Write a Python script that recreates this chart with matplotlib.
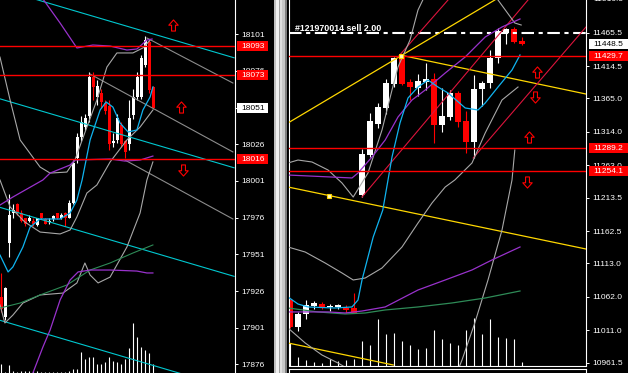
import numpy as np
import matplotlib
matplotlib.use('Agg')
import matplotlib.pyplot as plt
from matplotlib.patches import Rectangle
from matplotlib.path import Path
from matplotlib.lines import Line2D
from matplotlib.transforms import IdentityTransform

plt.rcParams['font.family'] = ['Liberation Sans', 'DejaVu Sans']

# ---------------- left chart ----------------
left_open = [17922, 17908, 17959, 17979, 17985, 17979, 17976, 17974, 17974, 17971, 17979, 17975, 17973,
             17975, 17979, 17976, 17979, 17976, 17986, 18017, 18031, 18038, 18045, 18072, 18058, 18061,
             18054, 18052, 18027, 18029, 18039, 18028, 18026, 18046, 18058, 18058, 18080, 18096, 18065]
left_high = [17938, 17929, 17992, 17985, 17986, 17981, 17976, 17978, 17976, 17976, 17979, 17976, 17976,
             17978, 17979, 17979, 17980, 17988, 18015, 18034, 18045, 18047, 18075, 18075, 18070, 18064,
             18056, 18056, 18034, 18047, 18041, 18029, 18056, 18064, 18075, 18087, 18100, 18098, 18066]
left_low = [17912, 17906, 17949, 17976, 17978, 17973, 17970, 17973, 17970, 17970, 17975, 17972, 17972,
            17974, 17975, 17975, 17970, 17976, 17985, 18013, 18028, 18036, 18041, 18056, 18053, 18051,
            18047, 18022, 18024, 18027, 18024, 18017, 18022, 18043, 18056, 18057, 18079, 18061, 18050]
left_close = [17914, 17928, 17978, 17981, 17979, 17974, 17972, 17976, 17972, 17976, 17976, 17972, 17974,
              17977, 17976, 17978, 17976, 17986, 18013, 18031, 18041, 18044, 18072, 18065, 18066, 18055,
              18049, 18026, 18028, 18044, 18026, 18021, 18044, 18058, 18072, 18085, 18097, 18063, 18051]
left_vol = [90, 10, 80, 20, 10, 20, 20, 20, 20, 20, 10, 10, 10, 10, 10, 10, 10, 20, 40, 40,
            210, 140, 160, 160, 90, 90, 110, 160, 120, 110, 90, 140, 250, 500, 360, 260, 230, 200, 90]
left_ticks = [18101, 18076, 18051, 18026, 18001, 17976, 17951, 17926, 17901, 17876]
left_levels = [18093, 18073, 18016]

left_chan_x = [-0.3, 58.2]
left_chan = [[18132, 18085], [18057, 18010], [17983, 17936], [17906, 17859]]

left_trend_x = [[36.4, 57.9], [22.2, 57.9], [30.9, 57.9]]
left_trend = [[18098.5, 18067.8], [18073.9, 18020.8], [18015.3, 17975.1]]

left_bb_up_x = [-0.33, 2.2, 4.7, 9.7, 12.2, 16.4, 18.4, 21.4, 23.9, 26.4, 28.9, 32.9, 35.4, 37.2]
left_bb_up = [18085.5, 18056.2, 18029.0, 18010.5, 18006.4, 18007.1, 18015.3, 18037.8, 18056.2, 18078.7,
              18088.3, 18088.3, 18091.7, 18097.1]
left_bb_lo_x = [-0.33, 2.2, 5.9, 9.7, 14.7, 17.2, 18.9, 21.4, 23.9, 27.2, 31.4, 34.7, 37.9]
left_bb_lo = [18001.7, 17983.3, 17973.0, 17966.2, 17964.9, 17967.6, 17976.5, 17992.8, 17998.3, 18014.0,
              18029.0, 18037.8, 18049.4]
left_wave_x = [-0.33, 0.9, 2.9, 5.4, 9.7, 15.4, 18.9, 20.9, 22.2, 24.2, 27.2, 31.4, 34.7, 36.4, 37.9]
left_wave = [17916.5, 17904.2, 17909.6, 17917.8, 17923.3, 17924.6, 17931.5, 17945.1, 17936.9, 17931.5,
             17935.5, 17956.0, 17979.2, 18001.7, 18014.0]
left_ma_x = [-0.33, 1.7, 2.9, 5.4, 7.2, 9.7, 14.7, 17.2, 18.9, 20.2, 22.2, 24.7, 26.2, 27.9, 29.7, 31.7,
             33.9, 35.4, 37.2, 37.9]
left_ma = [17950.5, 17939.0, 17942.4, 17956.0, 17969.6, 17975.1, 17975.1, 17979.2, 17988.0, 18001.7,
           18029.0, 18049.4, 18054.9, 18051.4, 18040.5, 18034.4, 18035.8, 18049.4, 18058.3, 18065.1]
left_env_up_x = [9.7, 14.7, 18.9, 22.9, 27.2, 31.4, 33.9, 36.4, 37.7]
left_env_up = [18127.8, 18108.7, 18091.7, 18093.7, 18093.0, 18090.3, 18091.0, 18097.1, 18097.8]
left_env_mid_x = [-0.33, 2.9, 10.4, 12.2, 17.2, 18.4, 27.2, 30.9, 34.7, 37.9]
left_env_mid = [17984.6, 17990.1, 18001.7, 18006.4, 18011.9, 18015.3, 18016.0, 18014.6, 18015.3, 18018.0]
left_env_lo_x = [6.7, 7.9, 10.4, 12.2, 14.7, 17.2, 19.2, 22.2, 27.2, 33.9, 36.4, 37.9]
left_env_lo = [17858.5, 17870.1, 17887.8, 17899.4, 17919.9, 17933.5, 17939.0, 17940.3, 17940.3,
               17939.6, 17938.3, 17938.3]
left_green_x = [-0.33, 4.7, 9.7, 16.4, 22.2, 27.2, 32.9, 37.9]
left_green = [17914.4, 17917.8, 17923.3, 17930.1, 17940.3, 17945.1, 17951.9, 17957.4]
left_up_x, left_up = [42.9, 44.9], [18107.3, 18051.4]
left_dn_x, left_dn = [45.4], [18008.5]

# ---------------- right chart ----------------
right_open = [11057, 11016, 11036, 11048, 11051, 11047, 11047, 11045, 11045, 11218, 11279, 11326, 11351,
              11387, 11428, 11390, 11381, 11390, 11395, 11325, 11337, 11373, 11330, 11299, 11380, 11389,
              11427, 11465, 11471, 11453]
right_high = [11058, 11039, 11057, 11056, 11054, 11051, 11051, 11050, 11068, 11288, 11343, 11358, 11395,
              11428, 11431, 11395, 11402, 11419, 11404, 11381, 11378, 11377, 11346, 11401, 11392, 11439,
              11473, 11473, 11474, 11459]
right_low = [11015, 11010, 11028, 11044, 11044, 11041, 11044, 11037, 11037, 11215, 11276, 11320, 11341,
             11383, 11386, 11363, 11369, 11378, 11297, 11314, 11332, 11322, 11282, 11274, 11354, 11381,
             11419, 11448, 11450, 11447]
right_close = [11016, 11036, 11050, 11053, 11045, 11048, 11050, 11042, 11037, 11280, 11331, 11352, 11389,
               11427, 11387, 11383, 11392, 11395, 11325, 11338, 11373, 11329, 11299, 11380, 11389, 11427,
               11468, 11471, 11451, 11448.5]
right_vol = [230, 90, 60, 40, 30, 70, 50, 60, 70, 250, 210, 470, 320, 330, 250, 210, 170, 180, 360, 270,
             230, 210, 360, 480, 320, 470, 290, 280, 270, 40]
right_ticks = [11465.5, 11414.5, 11365.0, 11314.0, 11263.0, 11213.5, 11162.5, 11113.0, 11062.0,
               11011.0, 10961.5]
right_levels = [11429.7, 11289.2, 11254.1]
order_price = 11465.5
order_label = '#121970014 sell 2.00'

right_yellow_x = [[-0.25, 25.6], [13.9, 37.0], [-0.25, 37.0], [-0.25, 12.9]]
right_yellow = [[11327.6, 11515.4], [11431.0, 11371.8], [11229.8, 11135.1], [10991.6, 10958.0]]
right_anchor_x, right_anchor = [4.9, 13.9], [11216.1, 11430.5]
right_crimson_x = [[9.0, 29.75], [13.5, 19.75], [22.9, 37.0]]
right_crimson = [[11214.5, 11515.4], [11428.4, 11515.4], [11274.1, 11474.2]]

right_bb_a_x = [-0.25, 1.0, 2.75, 4.75, 6.5, 7.9, 9.75, 11.5, 12.75, 13.5, 15.0, 16.0, 16.9]
right_bb_a = [11266.5, 11271.0, 11268.0, 11255.8, 11235.9, 11214.5, 11251.2, 11316.9, 11377.9, 11413.1,
              11454.3, 11500.1, 11523.0]
right_bb_top_x = [26.0, 28.1, 28.9]
right_bb_top = [11515.4, 11480.3, 11477.2]
right_bb_b_x = [-0.25, 1.9, 4.4, 6.5, 7.9, 9.4, 11.5, 14.0, 16.0, 17.75, 19.4, 20.6, 22.75, 24.4, 26.5, 28.5]
right_bb_b = [11138.2, 11130.5, 11113.7, 11098.5, 11087.8, 11090.8, 11106.1, 11138.2, 11174.8, 11205.4,
              11229.8, 11240.5, 11266.5, 11312.3, 11362.7, 11382.5]
right_bb_c_x = [21.0, 21.5, 23.1, 24.75, 26.5, 27.75, 28.1]
right_bb_c = [10950.3, 10965.6, 11022.1, 11087.8, 11164.1, 11240.5, 11286.3]
right_bb_d_x = [-0.25, 1.9, 4.0, 6.0, 7.5]
right_bb_d = [11014.5, 10991.6, 10973.2, 10961.0, 10950.3]
right_ma_x = [-0.25, 1.0, 2.25, 5.6, 7.75, 8.5, 9.0, 10.4, 11.6, 12.75, 13.75, 14.75, 16.0, 17.25, 18.5,
              19.75, 21.9, 23.5, 24.4, 26.0, 27.75, 28.75]
right_ma = [11061.8, 11051.1, 11046.6, 11045.0, 11046.6, 11057.2, 11087.8, 11153.4, 11194.7, 11275.6,
            11327.6, 11365.7, 11382.5, 11393.2, 11382.5, 11373.4, 11350.5, 11347.4, 11358.1, 11382.5,
            11408.5, 11431.4]
right_pur_lo_x = [-0.25, 4.75, 6.9, 9.0, 11.9, 16.0, 19.4, 22.75, 25.25, 28.75]
right_pur_lo = [11039.0, 11039.0, 11037.4, 11040.4, 11046.6, 11072.5, 11087.8, 11103.1, 11118.4, 11138.2]
right_pur_up_x = [-0.25, 7.75, 8.5, 10.25, 11.9, 13.5, 15.25, 16.9, 19.4, 21.9, 24.4, 26.5, 28.75]
right_pur_up = [11248.1, 11243.6, 11251.2, 11275.6, 11301.6, 11336.7, 11362.7, 11377.9, 11403.9,
                11428.4, 11458.9, 11474.2, 11486.4]
right_green_x = [-0.25, 3.5, 6.9, 9.4, 11.9, 16.0, 20.25, 24.4, 28.75]
right_green = [11045.0, 11039.0, 11035.9, 11037.4, 11042.0, 11046.6, 11052.7, 11060.3, 11071.0]
right_up_x, right_up = [30.9, 29.9], [11405.4, 11306.2]
right_dn_x, right_dn = [30.6, 29.6], [11367.3, 11237.4]

CYAN_CH = '#00c8d0'
CYAN = '#10b4f0'
PURPLE = '#9932cc'
GREEN = '#2e8b57'
GRAY = '#a8a8a8'
DGRAY = '#8c8c8c'
YELLOW = '#ffd700'
CRIMSON = '#dc143c'

W, H = 628, 373
fig = plt.figure(figsize=(W / 100, H / 100), dpi=100, facecolor='black')
PIX = IdentityTransform()


def box_px(x0, y0, x1, y1):
    return [x0 / W, 1 - y1 / H, (x1 - x0) / W, (y1 - y0) / H]


def make_axes(box, xlim, ylim, vmax):
    axv = fig.add_axes(box)
    axv.set_xlim(xlim)
    axv.set_ylim(0, vmax)
    axv.axis('off')
    ax = fig.add_axes(box)
    ax.set_facecolor('none')
    ax.set_xlim(xlim)
    ax.set_ylim(ylim)
    ax.set_xticks([])
    for s in ax.spines.values():
        s.set_visible(False)
    ax.yaxis.tick_right()
    ax.tick_params(axis='y', colors='white', length=2, width=0.7, pad=2.5, labelsize=6)
    return ax, axv


def candles(ax, o, h, l, c, width):
    o, h, l, c = map(np.asarray, (o, h, l, c))
    x = np.arange(len(o))
    cols = np.where(c >= o, 'white', 'red')
    y0, y1 = ax.get_ylim()
    one_px = (y1 - y0) / ax.bbox.height
    ax.vlines(x, l, h, colors=cols, lw=0.8, zorder=2)
    ax.bar(x, np.maximum(np.abs(c - o), one_px), bottom=np.minimum(o, c), width=width,
           color=cols, lw=0, zorder=2)


def price_box(ax, price, label, fc, tc, x0, x1):
    y = ax.transData.transform((0, price))[1]
    fig.add_artist(Rectangle((x0, y - 5), x1 - x0, 10, transform=PIX, fc=fc, ec='none', zorder=20))
    fig.text(x0 + 4, y - 0.5, label, transform=PIX, color=tc, fontsize=6, va='center', zorder=21)


up_arrow = Path([(0, 1), (0.85, 0.05), (0.35, 0.05), (0.35, -1), (-0.35, -1), (-0.35, 0.05),
                 (-0.85, 0.05), (0, 1)], closed=True)
dn_arrow = Path([(0, -1), (0.85, -0.05), (0.35, -0.05), (0.35, 1), (-0.35, 1), (-0.35, -0.05),
                 (-0.85, -0.05), (0, -1)], closed=True)


def arrows(ax, x, y, mk):
    ax.plot(x, y, ls='none', marker=mk, ms=8, mfc='none', mec='red', mew=0.8, zorder=6)


# ---- left panel ----
axL, axLv = make_axes(box_px(0, 0, 234.7, 373), (-0.325, 58.35), (17870.1, 18124.4), 3730)
axL.spines['right'].set_visible(True)
axL.spines['right'].set_color('white')
axL.spines['right'].set_linewidth(0.8)
axL.set_yticks(left_ticks)
axL.set_yticklabels([str(t) for t in left_ticks])

axLv.vlines(np.arange(len(left_vol)), 0, left_vol, colors='white', lw=0.8)
candles(axL, left_open, left_high, left_low, left_close, 0.62)

for ch in left_chan:
    axL.plot(left_chan_x, ch, color=CYAN_CH, lw=0.8, zorder=3)
for tx, ty in zip(left_trend_x, left_trend):
    axL.plot(tx, ty, color=DGRAY, lw=0.8, zorder=3)
axL.plot(left_bb_up_x, left_bb_up, color=GRAY, lw=0.8, zorder=3)
axL.plot(left_bb_lo_x, left_bb_lo, color=GRAY, lw=0.8, zorder=3)
axL.plot(left_wave_x, left_wave, color=GRAY, lw=0.8, zorder=3)
axL.plot(left_green_x, left_green, color=GREEN, lw=0.8, zorder=3)
axL.plot(left_env_up_x, left_env_up, color=PURPLE, lw=0.9, zorder=3)
axL.plot(left_env_mid_x, left_env_mid, color=PURPLE, lw=0.9, zorder=3)
axL.plot(left_env_lo_x, left_env_lo, color=PURPLE, lw=0.9, zorder=3)
axL.plot(left_ma_x, left_ma, color=CYAN, lw=0.9, zorder=4)
for lv in left_levels:
    axL.axhline(lv, color='#ff0000', lw=1.0, zorder=4.5)
arrows(axL, left_up_x, left_up, up_arrow)
arrows(axL, left_dn_x, left_dn, dn_arrow)

price_box(axL, 18093, '18093', 'red', 'white', 237, 268)
price_box(axL, 18073, '18073', 'red', 'white', 237, 268)
price_box(axL, left_close[-1], '18051', 'white', 'black', 237, 268)
price_box(axL, 18016, '18016', 'red', 'white', 237, 268)
fig.text(241, axL.transData.transform((0, 18126))[1], '18126', transform=PIX, color='white',
         fontsize=6, va='center')

# ---- right panel ----
axR, axRv = make_axes(box_px(288.5, 0, 586, 365.5), (-0.1875, 37.0), (10957.2, 11515.4), 3655)
for side in ('left', 'bottom', 'right'):
    axR.spines[side].set_visible(True)
    axR.spines[side].set_color('white')
    axR.spines[side].set_linewidth(0.8)
axR.set_yticks(right_ticks)
axR.set_yticklabels([f'{t:.1f}' for t in right_ticks])

axRv.vlines(np.arange(len(right_vol)), 0, right_vol, colors='white', lw=0.8)
candles(axR, right_open, right_high, right_low, right_close, 0.64)

axR.axhline(order_price, color='white', lw=1.5, dashes=(6, 2.2, 2, 2.2), zorder=3)
axR.text(0.6, 11468, order_label, color='white', fontsize=6.4, weight='bold', va='baseline', zorder=7)

for tx, ty in zip(right_yellow_x, right_yellow):
    axR.plot(tx, ty, color=YELLOW, lw=0.9, zorder=3)
axR.plot(right_anchor_x, right_anchor, ls='none', marker='s', ms=3.5, mfc='#fff8c0', mec=YELLOW,
         mew=0.8, zorder=5)
for tx, ty in zip(right_crimson_x, right_crimson):
    axR.plot(tx, ty, color=CRIMSON, lw=0.8, zorder=3)
axR.plot(right_bb_a_x, right_bb_a, color=GRAY, lw=0.8, zorder=3)
axR.plot(right_bb_top_x, right_bb_top, color=GRAY, lw=0.8, zorder=3)
axR.plot(right_bb_b_x, right_bb_b, color=GRAY, lw=0.8, zorder=3)
axR.plot(right_bb_c_x, right_bb_c, color=GRAY, lw=0.8, zorder=3)
axR.plot(right_bb_d_x, right_bb_d, color=GRAY, lw=0.8, zorder=3)
axR.plot(right_green_x, right_green, color=GREEN, lw=0.9, zorder=3)
axR.plot(right_pur_lo_x, right_pur_lo, color=PURPLE, lw=0.9, zorder=3)
axR.plot(right_pur_up_x, right_pur_up, color=PURPLE, lw=0.9, zorder=3)
axR.plot(right_ma_x, right_ma, color=CYAN, lw=0.9, zorder=4)
for lv in right_levels:
    axR.axhline(lv, color='#ff0000', lw=1.0, zorder=4.5)
arrows(axR, right_up_x, right_up, up_arrow)
arrows(axR, right_dn_x, right_dn, dn_arrow)

price_box(axR, right_close[-1], '11448.5', 'white', 'black', 589, 628)
price_box(axR, 11429.7, '11429.7', 'red', 'white', 589, 628)
price_box(axR, 11289.2, '11289.2', 'red', 'white', 589, 628)
price_box(axR, 11254.1, '11254.1', 'red', 'white', 589, 628)
fig.text(593, axR.transData.transform((0, 11516.5))[1], '11516.5', transform=PIX, color='white',
         fontsize=6, va='center')

# ---- window splitter and sub-window border ----
for x0, x1, col in [(274, 276, '#c0c0c0'), (276, 278.5, '#f0f0f0'), (278.5, 279.5, '#a0a0a0'),
                    (279.5, 282, '#e0e0e0'), (282, 284.5, '#c8c8c8'), (284.5, 286.7, '#808080')]:
    fig.add_artist(Rectangle((x0, 0), x1 - x0, H, transform=PIX, fc=col, ec='none', zorder=15))
for xs, ys in [((288.5, 586), (H - 368.5, H - 368.5)), ((288.5, 288.5), (0, H - 368.5)),
               ((586, 586), (0, H - 368.5))]:
    fig.add_artist(Line2D(xs, ys, transform=PIX, color='white', lw=0.8, zorder=15))

fig.savefig('out.png', dpi=100, facecolor='black')
